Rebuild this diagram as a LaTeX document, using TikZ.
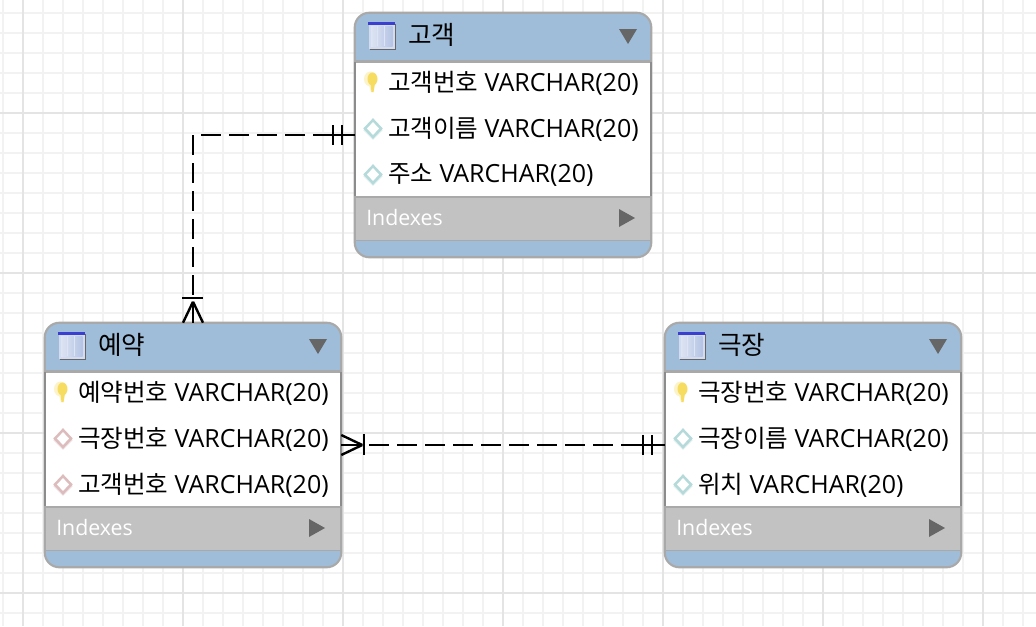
\documentclass[tikz,border=0pt]{standalone}
\usepackage{fontspec}
\usetikzlibrary{calc}
\newfontfamily\krf{Noto Sans CJK KR}
\newfontfamily\latf{Open Sans}
\definecolor{hdr}{HTML}{9FBDD8}
\definecolor{edgeg}{HTML}{A9A9A9}
\definecolor{sideg}{HTML}{8C8C8C}
\definecolor{idxg}{HTML}{C2C2C2}
\definecolor{tri}{HTML}{666666}
\definecolor{gminor}{HTML}{F2F2F2}
\definecolor{gmajor}{HTML}{E4E4E4}
\definecolor{keyy}{HTML}{F7DC62}
\definecolor{teald}{HTML}{B6DADA}
\definecolor{redd}{HTML}{DCBCBC}
\definecolor{iconb}{HTML}{3B3FCF}
\definecolor{iconf}{HTML}{B4C3E4}
\tikzset{
  x=0.75pt,y=-0.75pt,
  gridminor/.style={gminor,line width=1.4pt},
  gridmajor/.style={gmajor,line width=1.4pt},
  tablebox/.style={minimum width=222pt,minimum height=183pt,inner sep=0pt,rounded corners=11pt},
  rowtext/.style={anchor=west,inner sep=0pt,black,font=\fontsize{18.4}{20}\selectfont},
  titletext/.style={anchor=west,inner sep=0pt,black,font=\krf\fontsize{19.2}{21}\selectfont},
  idxtext/.style={anchor=west,inner sep=0pt,white,font=\latf\fontsize{16}{18}\selectfont},
  rel/.style={black,line width=1.8pt},
  reldash/.style={rel,dash pattern=on 15pt off 6pt},
  tick/.style={black,line width=1.6pt},
}
% icons: x, y = centre in pixels
\newcommand{\keyicon}[2]{%
  \fill[keyy!35!white] (#1-1.5,#2-3) ellipse [x radius=6.5,y radius=7.5];
  \fill[keyy!35!white] (#1-3.5,#2+1) -- (#1+3,#2+1) -- (#1+1.5,#2+10) -- (#1-1,#2+10) -- cycle;
  \fill[keyy] (#1+0.5,#2-3) ellipse [x radius=5,y radius=6.5];
  \fill[keyy] (#1-1.5,#2+1) -- (#1+3,#2+1) -- (#1+1.5,#2+10) -- (#1-0.5,#2+10) -- cycle;
}
\newcommand{\diaicon}[3]{%
  \draw[#3!45!white,line width=1.5pt] (#1-9,#2+1.5) -- (#1,#2+10.5) -- (#1+9,#2+1.5);
  \draw[#3,line width=1.9pt,fill=white] (#1-8,#2+0.5) -- (#1,#2-8) -- (#1+8,#2+0.5) -- (#1,#2+9) -- cycle;
}
% table: name, left, top, title
\newcommand{\ertable}[4]{%
  \node[tablebox,fill=white] (#1) at (#2+148,#3+122) {};
  \begin{scope}
    \clip[rounded corners=11pt] (#1.north west) rectangle (#1.south east);
    \fill[hdr] (#2,#3) rectangle (#2+296,#3+48);
    \fill[idxg] (#2,#3+183) rectangle (#2+296,#3+227);
    \fill[hdr] (#2,#3+227) rectangle (#2+296,#3+244);
    \draw[edgeg,line width=1.6pt] (#2,#3+48.5) -- (#2+296,#3+48.5);
    \draw[edgeg,line width=1.6pt] (#2,#3+184) -- (#2+296,#3+184);
    \draw[edgeg,line width=1.2pt] (#2,#3+227.5) -- (#2+296,#3+227.5);
  \end{scope}
  \draw[edgeg,line width=1.6pt,rounded corners=11pt] (#1.north west) rectangle (#1.south east);
  \draw[sideg,line width=1.6pt] (#2,#3+49) -- (#2,#3+183) (#2+296,#3+49) -- (#2+296,#3+183);
  % table icon
  \fill[black!60] (#2+15,#3+11) rectangle (#2+41,#3+37);
  \fill[iconf!60!white] (#2+13.5,#3+9.5) rectangle (#2+39.5,#3+35.5);
  \fill[iconb] (#2+13,#3+9) rectangle (#2+39.5,#3+11.5);
  \shade[left color=iconf!45!white,right color=iconf] (#2+16,#3+13) rectangle (#2+37.5,#3+33);
  \draw[white!55!iconf,line width=0.7pt] (#2+22.5,#3+13) -- (#2+22.5,#3+33) (#2+29.5,#3+13) -- (#2+29.5,#3+33);
  \node[titletext] (#1title) at (#2+53,#3+21.5) {#4};
  \fill[tri] (#2+264,#3+16) -- (#2+282,#3+16) -- (#2+273,#3+31) -- cycle;
  \node[idxtext] (#1idx) at (#2+11,#3+204) {Indexes};
  \fill[tri] (#2+264,#3+196) -- (#2+280,#3+205) -- (#2+264,#3+214) -- cycle;
}
\newcommand{\errow}[5]{% name, x, y, hangul, latin
  \node[rowtext] (#1) at (#2,#3) {{\krf #4}\hspace{4.6pt}{\latf\fontsize{18.75}{20}\selectfont #5}};
}
\begin{document}
\begin{tikzpicture}
\useasboundingbox (0,0) rectangle (1036,626);
\fill[white] (0,0) rectangle (1036,626);
\foreach \g in {3,23,...,1023} \draw[gridminor] (\g,0) -- (\g,626);
\foreach \g in {13,33,...,613} \draw[gridminor] (0,\g) -- (1036,\g);
\foreach \g in {23,183,343,503,663,823,983} \draw[gridmajor] (\g,0) -- (\g,626);
\foreach \g in {113,273,433,593} \draw[gridmajor] (0,\g) -- (1036,\g);

\ertable{gogaek}{355}{13}{고객}
\keyicon{372}{82}
\diaicon{373}{128}{teald}
\diaicon{373}{174}{teald}
\errow{g1}{388}{83.5}{고객번호}{VARCHAR(20)}
\errow{g2}{388}{129.5}{고객이름}{VARCHAR(20)}
\errow{g3}{388}{175.5}{주소}{VARCHAR(20)}

\ertable{yeyak}{45}{323}{예약}
\keyicon{62}{392}
\diaicon{63}{438}{redd}
\diaicon{63}{484}{redd}
\errow{y1}{78}{393.5}{예약번호}{VARCHAR(20)}
\errow{y2}{78}{439.5}{극장번호}{VARCHAR(20)}
\errow{y3}{78}{485.5}{고객번호}{VARCHAR(20)}

\ertable{geukjang}{665}{323}{극장}
\keyicon{682}{392}
\diaicon{683}{438}{teald}
\diaicon{683}{484}{teald}
\errow{k1}{698}{393.5}{극장번호}{VARCHAR(20)}
\errow{k2}{698}{439.5}{극장이름}{VARCHAR(20)}
\errow{k3}{698}{485.5}{위치}{VARCHAR(20)}

% connector gogaek - yeyak
\coordinate (gaS) at ($(gogaek.west)+(-22,0)$);
\coordinate (gaE) at ($(yeyak.north)+(0,-28)$);
\draw[rel] (gogaek.west) -- (gaS);
\draw[tick] ($(gogaek.west)+(-13,-10)$) -- ($(gogaek.west)+(-13,10)$);
\draw[tick] ($(gogaek.west)+(-21.5,-10)$) -- ($(gogaek.west)+(-21.5,10)$);
\draw[reldash] (gaS) -| (gaE);
\draw[tick] ($(yeyak.north)+(-11,-25)$) -- ($(yeyak.north)+(10,-25)$);
\draw[rel] ($(yeyak.north)+(0,-21)$) -- (yeyak.north);
\draw[rel] ($(yeyak.north)+(0,-21)$) -- ($(yeyak.north)+(-10,0)$);
\draw[rel] ($(yeyak.north)+(0,-21)$) -- ($(yeyak.north)+(10,0)$);

% connector yeyak - geukjang
\coordinate (ykS) at ($(geukjang.west)+(-24,0)$);
\coordinate (ykE) at ($(yeyak.east)+(26,0)$);
\draw[rel] (geukjang.west) -- (ykS);
\draw[tick] ($(geukjang.west)+(-13,-10)$) -- ($(geukjang.west)+(-13,10)$);
\draw[tick] ($(geukjang.west)+(-22,-10)$) -- ($(geukjang.west)+(-22,10)$);
\draw[reldash] (ykS) -- (ykE);
\draw[tick] ($(yeyak.east)+(23,-11)$) -- ($(yeyak.east)+(23,10)$);
\draw[rel] (yeyak.east) -- ($(yeyak.east)+(21,0)$);
\draw[rel] ($(yeyak.east)+(21,0)$) -- ($(yeyak.east)+(0,-10)$);
\draw[rel] ($(yeyak.east)+(21,0)$) -- ($(yeyak.east)+(0,10)$);
\end{tikzpicture}
\end{document}
